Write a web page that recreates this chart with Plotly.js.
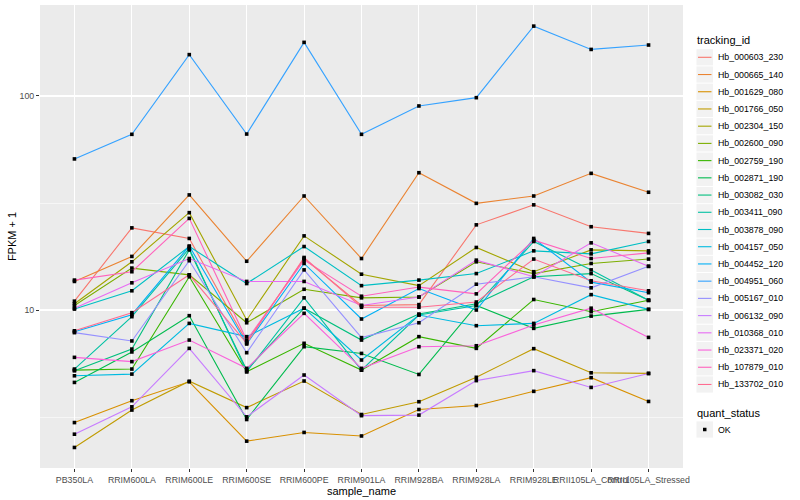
<!DOCTYPE html>
<html>
<head>
<meta charset="utf-8">
<script src="https://cdn.plot.ly/plotly-3.0.1.min.js"></script>
<style>html,body{margin:0;padding:0;background:#fff;}#chart{width:800px;height:500px;}</style>
</head>
<body>
<div id="chart"></div>
<script>
// ---- data (FPKM + 1) ----
const samples = ["PB350LA","RRIM600LA","RRIM600LE","RRIM600SE","RRIM600PE","RRIM901LA","RRIM928BA","RRIM928LA","RRIM928LE","RRII105LA_Control","RRII105LA_Stressed"];
const trackingIds = ["Hb_000603_230","Hb_000665_140","Hb_001629_080","Hb_001766_050","Hb_002304_150","Hb_002600_090","Hb_002759_190","Hb_002871_190","Hb_003082_030","Hb_003411_090","Hb_003878_090","Hb_004157_050","Hb_004452_120","Hb_004951_060","Hb_005167_010","Hb_006132_090","Hb_010368_010","Hb_023371_020","Hb_107879_010","Hb_133702_010"];
const colors = ["#F8766D","#EA8331","#D89000","#C09B00","#A3A500","#7CAE00","#39B600","#00BB4E","#00BF7D","#00C1A3","#00BFC4","#00BAE0","#00B0F6","#35A2FF","#9590FF","#C77CFF","#E76BF3","#FA62DB","#FF62BC","#FF6C91"];
const quantStatus = ["OK"];

const hb_000603_230 = [11.0, 24.2, 21.6, 7.1, 17.4, 10.5, 10.6, 25.0, 31.0, 24.5, 22.8];
const hb_000665_140 = [13.6, 17.8, 34.5, 16.9, 34.1, 17.4, 43.8, 31.5, 34.1, 43.5, 35.5];
const hb_001629_080 = [2.98, 3.77, 4.62, 2.44, 2.68, 2.58, 3.43, 3.58, 4.17, 4.83, 3.74];
const hb_001766_050 = [2.28, 3.41, 4.65, 3.50, 4.66, 3.25, 3.73, 4.85, 6.60, 5.09, 5.06];
const hb_002304_150 = [10.7, 16.8, 28.5, 8.98, 22.2, 14.7, 13.0, 19.6, 15.1, 19.1, 18.9];
const hb_002600_090 = [10.5, 15.7, 14.6, 8.72, 12.5, 11.4, 11.5, 16.8, 14.8, 16.5, 17.3];
const hb_002759_190 = [5.24, 5.30, 14.3, 5.15, 6.99, 5.24, 7.51, 6.62, 11.2, 9.82, 11.1];
const hb_002871_190 = [4.59, 6.37, 9.41, 3.08, 6.74, 6.27, 5.00, 10.5, 8.21, 9.37, 10.07];
const hb_003082_030 = [5.2, 6.57, 19.1, 5.24, 10.2, 7.24, 9.58, 10.7, 14.3, 14.8, 11.1];
const hb_003411_090 = [5.3, 9.31, 19.4, 5.15, 11.4, 5.24, 9.48, 10.5, 20.9, 15.4, 11.1];
const hb_003878_090 = [10.1, 12.3, 19.8, 13.3, 19.8, 13.0, 13.8, 14.8, 18.9, 18.3, 20.9];
const hb_004157_050 = [4.93, 5.02, 8.66, 7.51, 10.2, 5.84, 9.48, 8.45, 8.66, 11.8, 10.07];
const hb_004452_120 = [7.92, 9.51, 19.9, 6.94, 16.5, 9.08, 12.6, 10.0, 21.6, 13.5, 12.05];
const hb_004951_060 = [50.8, 66.2, 156, 66.4, 178, 66.2, 89.8, 98.2, 212, 165, 173];
const hb_005167_010 = [7.84, 7.17, 17.0, 6.32, 15.4, 7.43, 8.72, 13.2, 14.3, 12.7, 16.0];
const hb_006132_090 = [2.63, 3.53, 6.62, 3.17, 4.97, 3.21, 3.23, 4.68, 5.21, 4.35, 5.05];
const hb_010368_010 = [10.2, 13.4, 17.4, 13.6, 13.6, 10.5, 11.5, 17.1, 14.3, 20.6, 16.0];
const hb_023371_020 = [6.01, 5.74, 7.24, 5.34, 9.65, 5.34, 6.74, 6.81, 8.51, 10.2, 7.45];
const hb_107879_010 = [13.8, 15.1, 26.8, 7.24, 17.1, 11.6, 12.8, 11.9, 21.2, 17.4, 18.5];
const hb_133702_010 = [8.0, 9.72, 14.6, 6.99, 17.6, 10.3, 10.3, 10.9, 17.3, 13.7, 12.3];

const yTickVals = [10, 100];
const yTickText = ["10", "100"];
const yMinorVals = [Math.sqrt(10), Math.sqrt(1000)];

const series = [hb_000603_230, hb_000665_140, hb_001629_080, hb_001766_050, hb_002304_150, hb_002600_090, hb_002759_190, hb_002871_190, hb_003082_030, hb_003411_090, hb_003878_090, hb_004157_050, hb_004452_120, hb_004951_060, hb_005167_010, hb_006132_090, hb_010368_010, hb_023371_020, hb_107879_010, hb_133702_010];

// ---- traces ----
const FONT = "Liberation Sans, Arial, Helvetica, sans-serif";
const traces = [];
series.forEach((vals, i) => {
  traces.push({
    type: "scatter", mode: "lines", x: samples, y: vals, name: trackingIds[i],
    line: {color: colors[i], width: 1.1}, showlegend: false, hoverinfo: "x+y+name"
  });
});
const px = [], py = [];
series.forEach(vals => { vals.forEach((v, j) => { px.push(samples[j]); py.push(v); }); });
traces.push({
  type: "scatter", mode: "markers", x: px, y: py, name: quantStatus[0],
  marker: {symbol: "square", size: 3.6, color: "#000000"}, showlegend: false
});

// ---- layout geometry (pixels) ----
const L = 40, R = 683.5, T = 5, B = 468, W = 800, H = 500;
const toX = x => (x - L) / (R - L);
const toY = y => (B - y) / (B - T);

const annotations = [];
const shapes = [];
// legend: tracking_id
annotations.push({xref: "paper", yref: "paper", x: toX(696), y: toY(40), text: "tracking_id",
  showarrow: false, xanchor: "left", yanchor: "middle", font: {family: FONT, size: 11, color: "#000"}});
trackingIds.forEach((id, i) => {
  const cy = 57.3 + i * 17.22;
  shapes.push({type: "rect", xref: "paper", yref: "paper", x0: toX(697), x1: toX(713.5),
    y0: toY(cy - 8.1), y1: toY(cy + 8.1), fillcolor: "#F2F2F2", line: {width: 0}, layer: "below"});
  shapes.push({type: "line", xref: "paper", yref: "paper", x0: toX(698.5), x1: toX(712),
    y0: toY(cy), y1: toY(cy), line: {color: colors[i], width: 1.1}});
  annotations.push({xref: "paper", yref: "paper", x: toX(716.5), y: toY(cy), text: id,
    showarrow: false, xanchor: "left", yanchor: "middle", font: {family: FONT, size: 8.8, color: "#000"}});
});
// legend: quant_status
annotations.push({xref: "paper", yref: "paper", x: toX(696), y: toY(413), text: "quant_status",
  showarrow: false, xanchor: "left", yanchor: "middle", font: {family: FONT, size: 11, color: "#000"}});
const qy = 429.5;
shapes.push({type: "rect", xref: "paper", yref: "paper", x0: toX(697), x1: toX(713.5),
  y0: toY(qy - 8.1), y1: toY(qy + 8.1), fillcolor: "#F2F2F2", line: {width: 0}, layer: "below"});
shapes.push({type: "rect", xref: "paper", yref: "paper", x0: toX(703.5), x1: toX(707),
  y0: toY(qy - 1.75), y1: toY(qy + 1.75), fillcolor: "#000", line: {width: 0}});
annotations.push({xref: "paper", yref: "paper", x: toX(716.5), y: toY(qy), text: quantStatus[0],
  showarrow: false, xanchor: "left", yanchor: "middle", font: {family: FONT, size: 8.8, color: "#000"}});

const layout = {
  width: W, height: H,
  margin: {l: L, r: W - R, t: T, b: H - B, pad: 0},
  paper_bgcolor: "#FFFFFF", plot_bgcolor: "#EBEBEB",
  font: {family: FONT, size: 8.8, color: "#4D4D4D"},
  showlegend: false,
  xaxis: {
    type: "category", categoryorder: "array", categoryarray: samples,
    range: [-0.6, samples.length - 0.4], tickangle: 0,
    showgrid: true, gridcolor: "#FFFFFF", gridwidth: 1.1, zeroline: false, showline: false,
    ticks: "outside", ticklen: 3, tickwidth: 1, tickcolor: "#333333",
    tickfont: {family: FONT, size: 8.8, color: "#4D4D4D"},
    title: {text: "sample_name", font: {family: FONT, size: 11, color: "#000"}, standoff: 1},
    automargin: false, fixedrange: true
  },
  yaxis: {
    type: "log", range: [0.262, 2.425],
    tickvals: yTickVals, ticktext: yTickText,
    showgrid: true, gridcolor: "#FFFFFF", gridwidth: 1.1, zeroline: false, showline: false,
    ticks: "outside", ticklen: 3, tickwidth: 1, tickcolor: "#333333",
    tickfont: {family: FONT, size: 8.8, color: "#4D4D4D"},
    minor: {tickvals: yMinorVals, showgrid: true, gridcolor: "#FFFFFF", gridwidth: 0.55, ticks: ""},
    title: {text: "FPKM + 1", font: {family: FONT, size: 11, color: "#000"}, standoff: 0},
    automargin: false, fixedrange: true
  },
  annotations: annotations,
  shapes: shapes
};

Plotly.newPlot("chart", traces, layout, {displayModeBar: false, staticPlot: true});
</script>
</body>
</html>
